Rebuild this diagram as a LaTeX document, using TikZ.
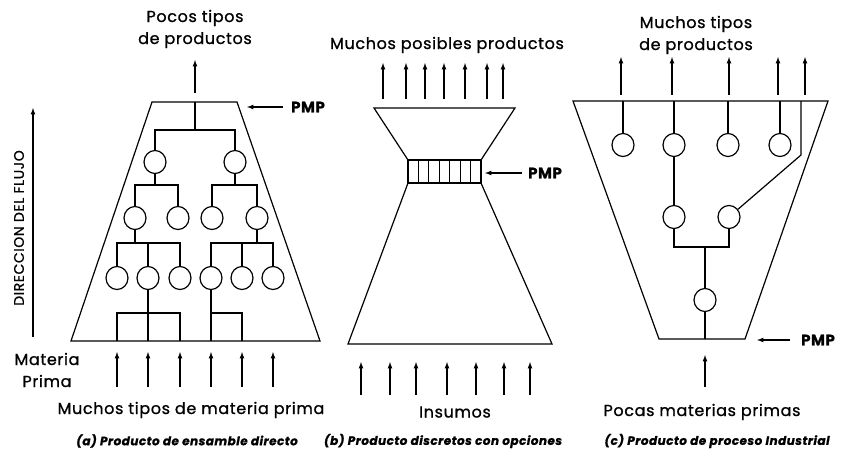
\documentclass[tikz,border=0pt]{standalone}
\usepackage{fontspec}
\setmainfont{Poppins}[LetterSpace=4,FakeBold=1]
\usetikzlibrary{arrows,%
	shapes.geometric}

\begin{document}
\begin{tikzpicture}[x=1pt,y=-1pt,line width=1.2pt,
	proc/.style={draw,ellipse,minimum width=22pt,minimum height=23pt,inner sep=0pt},
	flow/.style={-latex},
	lbl/.style={font=\fontsize{16}{22}\selectfont,align=center},
	pmp/.style={font=\fontsize{15}{17}\selectfont\bfseries},
	subcap/.style={font=\fontsize{12}{14}\selectfont\bfseries\itshape}]
	\useasboundingbox (0,0) rectangle (841,460);
	% direccion del flujo
	\coordinate (dirA) at (33,337);
	\coordinate (dirB) at (33,108);
	\draw[flow] (dirA) -- (dirB);
	\node[lbl,rotate=90] (dir) at (19,228) {\fontsize{14}{16}\selectfont DIRECCION DEL FLUJO};
	% (a) ensamble directo
	\draw (152,102) -- (237,102) -- (320,341) -- (71,341) -- cycle;
	\node[lbl] (outA) at (195,29) {Pocos tipos\\de productos};
	\coordinate (aOut0) at (195,93);
	\coordinate (aOut1) at (195,60);
	\draw[flow] (aOut0) -- (aOut1);
	\node[pmp] (pmpA) at (308,107) {PMP};
	\coordinate (pa0) at (283,107);
	\coordinate (pa1) at (247,107);
	\draw[flow] (pa0) -- (pa1);
	\node[proc] (a11) at (155,162) {};
	\node[proc] (a12) at (235,162) {};
	\node[proc] (a21) at (135,218) {};
	\node[proc] (a22) at (178,218) {};
	\node[proc] (a23) at (212,218) {};
	\node[proc] (a24) at (257,218) {};
	\node[proc] (a31) at (117,278) {};
	\node[proc] (a32) at (148,278) {};
	\node[proc] (a33) at (180,278) {};
	\node[proc] (a34) at (211,278) {};
	\node[proc] (a35) at (242,278) {};
	\node[proc] (a36) at (273,278) {};
	\coordinate (aTop) at (195,102);
	\coordinate (b0) at (195,130);
	\coordinate (b1) at (155,185);
	\coordinate (b2) at (235,185);
	\coordinate (c1) at (135,243);
	\coordinate (c2) at (257,243);
	\coordinate (d1) at (148,313);
	\coordinate (d2) at (211,313);
	\draw (aTop) -- (b0);
	\draw (a11) |- (b0) -| (a12);
	\draw (a11) -- (b1);
	\draw (a21) |- (b1) -| (a22);
	\draw (a12) -- (b2);
	\draw (a23) |- (b2) -| (a24);
	\draw (a21) -- (c1);
	\draw (a31) |- (c1) -| (a33);
	\draw (a32) -- (a32 |- c1);
	\draw (a24) -- (c2);
	\draw (a34) |- (c2) -| (a36);
	\draw (a35) -- (a35 |- c2);
	\foreach \x [count=\i] in {117,148,180,211,242}
		\coordinate (in\i) at (\x,341);
	\draw (a32) -- (in2);
	\draw (in1) |- (d1) -| (in3);
	\draw (a34) -- (in4);
	\draw (d2) -| (in5);
	\foreach \x [count=\i] in {117,148,180,211,242,273}{
		\coordinate (ra\i) at (\x,387);
		\coordinate (rb\i) at (\x,352);
		\draw[flow] (ra\i) -- (rb\i);
	}
	\node[lbl] (mp) at (47,370) {Materia\\Prima};
	\node[lbl] (inA) at (191,410) {Muchos tipos de materia prima};
	\node[subcap] (capA) at (187,441) {(a) Producto de ensamble directo};
	% (b) discretos con opciones
	\draw (374,108) -- (515,108) -- (481,160) -- (408,160) -- cycle;
	\draw (408,160) rectangle (481,183);
	\foreach \k in {1,...,6}
		\draw ({408+\k*73/7},160) -- ({408+\k*73/7},183);
	\draw (408,183) -- (481,183) -- (552,344) -- (348,344) -- cycle;
	\node[lbl] (outB) at (447,45) {Muchos posibles productos};
	\foreach \x [count=\i] in {383,406,425,444,465,487,503}{
		\coordinate (pb\i) at (\x,99);
		\coordinate (qb\i) at (\x,63);
		\draw[flow] (pb\i) -- (qb\i);
	}
	\foreach \x [count=\i] in {361,390,416,447,476,504,530}{
		\coordinate (sb\i) at (\x,395);
		\coordinate (tb\i) at (\x,362);
		\draw[flow] (sb\i) -- (tb\i);
	}
	\node[pmp] (pmpB) at (545,173) {PMP};
	\coordinate (pb0) at (522,173);
	\coordinate (pb1) at (485,173);
	\draw[flow] (pb0) -- (pb1);
	\node[lbl] (inB) at (455,412) {Insumos};
	\node[subcap] (capB) at (443,441) {(b) Producto discretos con opciones};
	% (c) proceso industrial
	\draw (573,101) -- (828,101) -- (745,339) -- (659,339) -- cycle;
	\node[lbl] (outC) at (696,35) {Muchos tipos\\de productos};
	\foreach \x [count=\i] in {621,672,729,778,805}{
		\coordinate (pc\i) at (\x,95);
		\coordinate (qc\i) at (\x,57);
		\draw[flow] (pc\i) -- (qc\i);
	}
	\node[proc] (k1) at (623,145) {};
	\node[proc] (k2) at (674,145) {};
	\node[proc] (k3) at (728,145) {};
	\node[proc] (k4) at (780,145) {};
	\node[proc] (k5) at (674,217) {};
	\node[proc] (k6) at (729,217) {};
	\node[proc] (k7) at (705,300) {};
	\foreach \x [count=\i] in {623,674,728,780,801}
		\coordinate (kt\i) at (\x,101);
	\draw (kt1) -- (k1);
	\draw (kt2) -- (k2);
	\draw (kt3) -- (k3);
	\draw (kt4) -- (k4);
	\coordinate (kbend) at (801,155);
	\draw (kt5) -- (kbend) -- (k6);
	\draw (k2) -- (k5);
	\coordinate (kbar) at (705,247);
	\coordinate (kin) at (705,339);
	\draw (k5) |- (kbar) -| (k6);
	\draw (kbar) -- (k7);
	\draw (k7) -- (kin);
	\coordinate (kr0) at (705,387);
	\coordinate (kr1) at (705,355);
	\draw[flow] (kr0) -- (kr1);
	\node[pmp] (pmpC) at (818,340) {PMP};
	\coordinate (pk0) at (790,340);
	\coordinate (pk1) at (757,340);
	\draw[flow] (pk0) -- (pk1);
	\node[lbl] (inC) at (702,412) {Pocas materias primas};
	\node[subcap] (capC) at (717,441) {(c) Producto de proceso Industrial};
\end{tikzpicture}
\end{document}
